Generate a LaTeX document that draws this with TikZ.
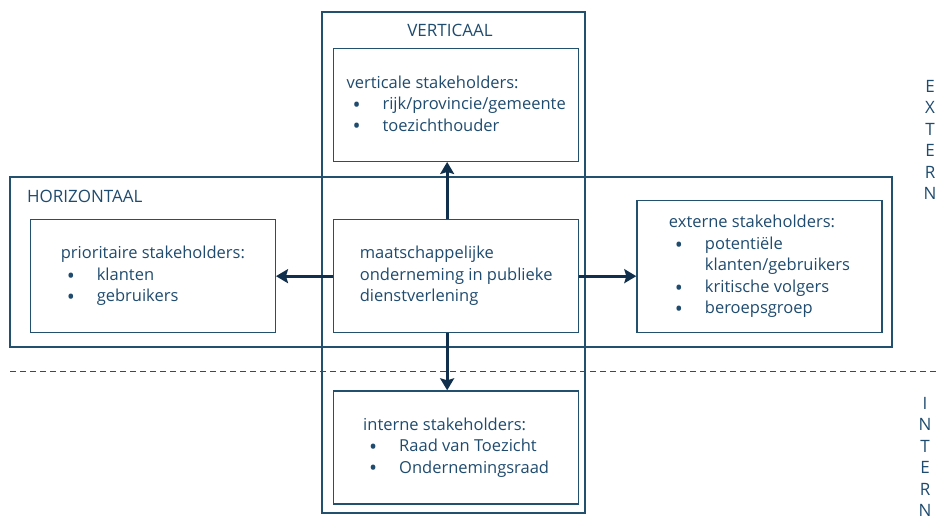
\documentclass[tikz,border=0pt]{standalone}
\usepackage{fontspec}
\setmainfont{Open Sans}
\usetikzlibrary{arrows.meta, positioning}
\definecolor{Navy}{HTML}{24506F}
\definecolor{NavyDark}{HTML}{0F2F4C}
\definecolor{TxtBlue}{HTML}{1F4B6E}

\tikzset{
  zone/.style={draw=Navy, line width=1.3pt},
  holder/.style={draw=Navy, line width=1.3pt, minimum width=245pt, minimum height=113pt,
                 align=left, inner sep=0pt, text=TxtBlue, font=\fontsize{16.5}{21.5}\selectfont},
  zonelabel/.style={text=TxtBlue, font=\fontsize{17}{21.5}\selectfont, inner sep=0pt},
  link/.style={draw=NavyDark, line width=3pt, -{Stealth[length=12pt, width=14pt, inset=2pt]}}
}
\newcommand{\itm}{\makebox[36pt][l]{\hspace{6pt}\raisebox{-0.3ex}{\scalebox{1.3}{\textbullet}}}}

\begin{document}
\begin{tikzpicture}[x=1pt, y=-1pt]
  \useasboundingbox (0,0) rectangle (938,517);
  \clip (0,0) rectangle (938,517);

  % zones
  \draw[zone] (322,12) rectangle (585,513);
  \draw[zone] (10,177) rectangle (892,347);
  \draw[Navy, line width=1pt, dash pattern=on 6pt off 4pt] (10,371) -- (938,371);

  \node[zonelabel] (vlabel) at (450,30) {VERTICAAL};
  \node[zonelabel, anchor=west] (hlabel) at (27,196) {HORIZONTAAL};

  % stakeholder boxes
  \node[holder, anchor=north west] (center) at (333,219)
    {maatschappelijke\\onderneming in publieke\\dienstverlening};
  \node[holder, above=57pt of center] (vert)
    {verticale stakeholders:\\\itm rijk/provincie/gemeente\\\itm toezichthouder};
  \node[holder, below=57pt of center] (intern)
    {interne stakeholders:\\\itm Raad van Toezicht\\\itm Ondernemingsraad};
  \node[holder, left=57pt of center] (prior)
    {prioritaire stakeholders:\\\itm klanten\\\itm gebruikers};
  \node[holder, minimum height=132pt, right=57pt of center.south east, anchor=south west] (extern)
    {externe stakeholders:\\\itm potentiële\\\hspace*{36pt}klanten/gebruikers\\\itm kritische volgers\\\itm beroepsgroep};

  % side labels
  \node[zonelabel, align=center, anchor=north] (extlabel) at (930,80) {E\\X\\T\\E\\R\\N};
  \node[zonelabel, align=center, anchor=north] (intlabel) at (925,397) {I\\N\\T\\E\\R\\N};

  % arrows
  \draw[link] ([xshift=-9pt]center.north) -- ([xshift=-9pt]vert.south);
  \draw[link] ([xshift=-9pt]center.south) -- ([xshift=-9pt]intern.north);
  \draw[link] (center.west) -- (prior.east);
  \draw[link] (center.east) -- (center.east -| extern.west);
\end{tikzpicture}
\end{document}
